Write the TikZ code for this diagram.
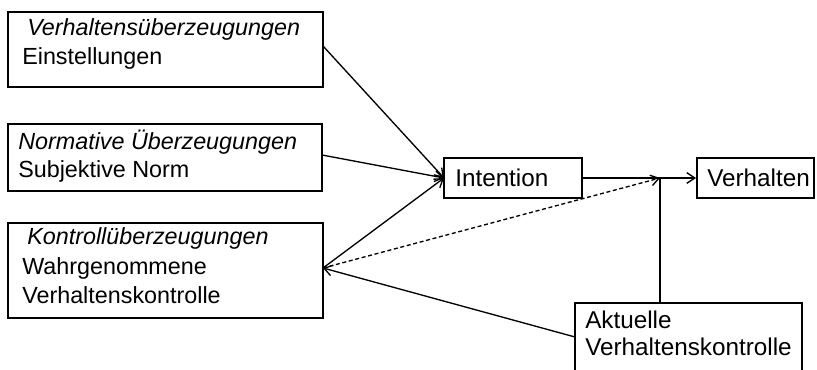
\documentclass[tikz,border=0pt]{standalone}
\usepackage{fontspec}
\setmainfont{Liberation Sans}
\usetikzlibrary{arrows.meta,fit}

\tikzset{
  box/.style={draw=black, line width=1.5pt, inner sep=0pt},
  txt/.style={anchor=base west, inner sep=0pt, font=\fontsize{17.5}{21}\selectfont},
  bigtxt/.style={txt, font=\fontsize{18.2}{22}\selectfont},
  link/.style={draw=black, line width=1pt},
  arr/.style={link, -{Straight Barb[length=6pt,width=8pt,line width=1pt]}},
  dotarr/.style={arr, dash pattern=on 3pt off 2pt}
}

\begin{document}
\begin{tikzpicture}[x=0.75pt, y=-0.75pt]
\useasboundingbox (0,0) rectangle (817,370);

% boxes
\node[box, fit={(8,12) (323,87)}]     (beliefs) {};
\node[box, fit={(8,124) (322,191)}]   (norm)    {};
\node[box, fit={(8,223) (323,318)}]   (control) {};
\node[box, fit={(444,158) (582,198)}] (intent)  {};
\node[box, fit={(697,158) (814,198)}] (behav)   {};
\node[box, fit={(575,303) (802,380)}] (actual)  {};

% labels
\node[txt] (l1a) at (27,36)  {\itshape Verhaltensüberzeugungen};
\node[txt] (l1b) at (22,65)  {Einstellungen};
\node[txt] (l2a) at (18,150) {\itshape Normative Überzeugungen};
\node[txt] (l2b) at (18,178) {Subjektive Norm};
\node[txt] (l3a) at (27,245) {\itshape Kontrollüberzeugungen};
\node[txt] (l3b) at (22,274) {Wahrgenommene};
\node[txt] (l3c) at (22,303) {Verhaltenskontrolle};
\node[bigtxt] (l4)  at (455,187) {Intention};
\node[bigtxt] (l5)  at (707,187) {Verhalten};
\node[bigtxt] (l6a) at (585,328) {Aktuelle};
\node[bigtxt] (l6b) at (585,355) {Verhaltenskontrolle};

% connection points
\coordinate (join) at (660,178);
\coordinate (b1out) at (323,46);
\coordinate (b2out) at (322,155);
\coordinate (b3out) at (323,268);
\coordinate (intin) at (444,178);
\coordinate (actin) at (575,337);

% connectors
\draw[arr] (b1out) -- (intin);
\draw[arr] (b2out) -- (intin);
\draw[arr] (b3out) -- (intin);
\draw[arr] (intent.east |- join) -- (behav.west |- join);
\draw[link] (actual.north -| join) -- (join);
\draw[dotarr] (b3out) -- (join);
\draw[arr] (actin) -- (b3out);
\end{tikzpicture}
\end{document}
